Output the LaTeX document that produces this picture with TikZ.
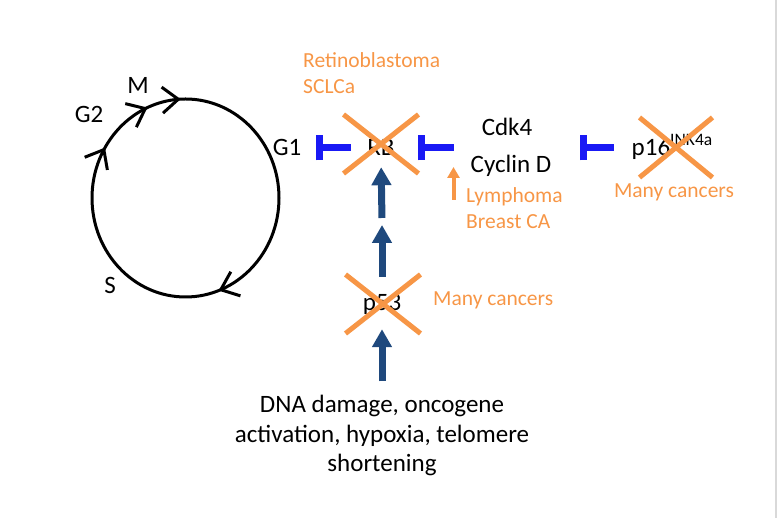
\documentclass[tikz,border=0pt]{standalone}
\usepackage{fontspec}
\setmainfont{Carlito}
\usepackage{xcolor}
\usetikzlibrary{arrows.meta}
\usetikzlibrary{shapes.misc}
\usetikzlibrary{decorations.markings}
\definecolor{onco}{RGB}{247,150,70}
\definecolor{inhblue}{RGB}{25,25,245}
\definecolor{navyblue}{RGB}{31,73,125}
\tikzset{lbl/.style={inner sep=0pt, text height=16pt, text depth=0pt, font=\fontsize{25}{29.5}\selectfont},
 dnatext/.style={inner sep=0pt, align=center, font=\fontsize{25}{29.5}\selectfont},
 onc/.style={inner sep=0pt, text=onco, align=left, font=\fontsize{21.5}{25.5}\selectfont},
 inhib/.style={draw=inhblue, line width=7pt, -{Bar[width=25pt]}},
 act/.style={draw=navyblue, line width=7pt, -{Triangle[length=18pt, width=19pt]}},
 amp/.style={draw=onco, line width=4pt, -{Triangle[length=11pt, width=12pt]}},
 xmark/.style={cross out, draw=onco, line width=5pt, inner sep=0pt, minimum width=70pt, minimum height=54pt},
 barb/.style={Straight Barb[length=16pt, width=26pt]},
 }

\begin{document}
\begin{tikzpicture}[x=1pt, y=1pt]
        \useasboundingbox (0,0) rectangle (778,518);
        \draw [gray!30, line width=2pt] (776,0) -- (776,518);
        \draw [line width=3pt, postaction={decorate}, decoration={markings,
         mark=at position 0.194 with {\arrow{Straight Barb[length=16pt, width=26pt]}},
         mark=at position 0.587 with {\arrow{Straight Barb[length=16pt, width=26pt]}},
         mark=at position 0.685 with {\arrow{Straight Barb[length=16pt, width=26pt]}},
         mark=at position 0.742 with {\arrow{Straight Barb[length=16pt, width=26pt]}}}]
         (279,320) arc [start angle=0, end angle=-360, x radius=93.5, y radius=99];
        \node [lbl] (M) at (138,432) {M};
        \node [lbl] (G2) at (89,403) {G2};
        \node [lbl] (S) at (110,232) {S};
        \node [lbl] (G1) at (287,370) {G1};
        \node [lbl] (RB) at (381,370) {RB};
        \node [lbl] (cdk) at (507,390.5) {Cdk4};
        \node [lbl] (cyc) at (511,353) {Cyclin D};
        \node [lbl] (p16) at (672,370) {p16\raisebox{10pt}{\fontsize{17.5}{20}\selectfont INK4a}};
        \node [lbl] (p53) at (382,215) {p53};
        \node [dnatext] (dna) at (382,82.5) {DNA damage, oncogene\\activation, hypoxia, telomere\\shortening};
        \node [onc, anchor=west] (rbca) at (303,444.7) {Retinoblastoma\\SCLCa};
        \node [onc, anchor=west] (lymph) at (466,310) {Lymphoma\\Breast CA};
        \node [onc] (p16ca) at (674,326) {Many cancers};
        \node [onc, anchor=west] (p53ca) at (433,218) {Many cancers};
        \node [xmark] at (381,374) {};
        \node [xmark, minimum width=68pt, minimum height=55pt] at (676,370.5) {};
        \node [xmark] at (383,214) {};
        \coordinate (mid) at (382,296.5);
        \coordinate (ampbase) at (453.5,318);
        \draw [inhib, shorten <=16.4pt, shorten >=14.8pt] (RB.west) -- (G1.east);
        \draw [inhib, shorten <=17pt, shorten >=23.4pt] (cyc.west |- RB) -- (RB.east);
        \draw [inhib, shorten <=18pt, shorten >=29pt] (p16.west) -- (cyc.east |- p16);
        \draw [act, shorten <=3.5pt, shorten >=11pt] (mid) -- (RB.south);
        \draw [act, shorten <=18pt, shorten >=3.5pt] (p53.north) -- (mid);
        \draw [act, shorten <=13.5pt, shorten >=18pt] (dna.north) -- (p53.south);
        \draw [amp, shorten >=2pt] (ampbase) -- (ampbase |- cyc.center);
    \end{tikzpicture}
\end{document}
